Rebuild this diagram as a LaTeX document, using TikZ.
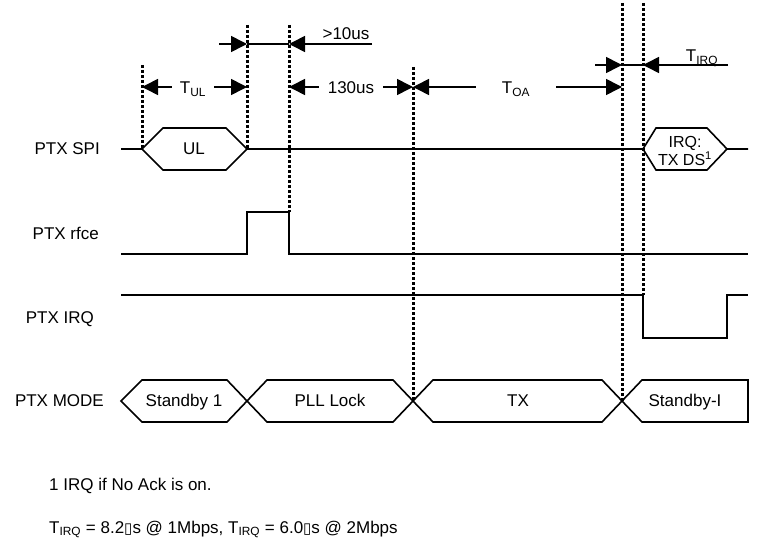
\documentclass[tikz,border=0pt]{standalone}
\usepackage{fontspec}
\setmainfont{Liberation Sans}
\newfontfamily\glyphfont{DejaVu Sans}
\newcommand{\nobox}{{\glyphfont\fontsize{15}{15}\selectfont ▯}}
\usetikzlibrary{arrows.meta}

\begin{document}
\begin{tikzpicture}[
  x=1pt, y=-1pt,
  font=\fontsize{17}{20}\selectfont,
  sig/.style={line width=1.6pt, line join=miter},
  marker/.style={line width=3pt, dash pattern=on 3pt off 2pt},
  dim/.style={-{Triangle[length=16pt, width=16pt]}, line width=1.6pt},
  lbl/.style={inner sep=0pt, anchor=base},
  rowlbl/.style={inner sep=0pt, anchor=base east},
]

\useasboundingbox (0,0) rectangle (757,540);

% --- time marks and rows ---
\coordinate (tA) at (142,0);
\coordinate (tB) at (247,0);
\coordinate (tC) at (289,0);
\coordinate (tD) at (413,0);
\coordinate (tE) at (622,0);
\coordinate (tF) at (643,0);
\coordinate (r1) at (0,44);
\coordinate (r2) at (0,87);
\coordinate (r3) at (0,65);

% --- Row labels ---
\node[rowlbl] (spi)  at (100,155) {PTX SPI};
\node[rowlbl] (rfce) at (99,239)  {PTX rfce};
\node[rowlbl] (irq)  at (94,323)  {PTX IRQ};
\node[rowlbl] (mode) at (104,406) {PTX MODE};

% --- Dotted time markers ---
\draw[marker] (tA |- 0,65) -- (tA |- 0,149);
\draw[marker] (tB |- 0,25) -- (tB |- 0,149);
\draw[marker] (tC |- 0,25) -- (tC |- 0,212);
\draw[marker] (tD |- 0,67) -- (tD |- 0,401);
\draw[marker] (tE |- 0,3)  -- (tE |- 0,401);
\draw[marker] (tF |- 0,3)  -- (tF |- 0,295);

% --- PTX SPI ---
\draw[sig] (121,149) -- (142,149) -- (163,128) -- (226,128) -- (247,149)
  -- (643,149) -- (656,128) -- (707,128) -- (727,149) -- (748,149);
\draw[sig] (142,149) -- (163,170) -- (226,170) -- (247,149);
\draw[sig] (643,149) -- (656,170) -- (707,170) -- (727,149);
\node[lbl] (ul) at (194,155) {UL};
\node[inner sep=0pt, align=center, font=\fontsize{16}{18}\selectfont] (txds) at (685,151) {IRQ:\\TX DS\textsuperscript{1}};

% --- PTX rfce ---
\draw[sig] (121,254) -- (247,254) -- (247,212) -- (289,212) -- (289,254) -- (748,254);

% --- PTX IRQ ---
\draw[sig] (121,295) -- (643,295) -- (643,338) -- (727,338) -- (727,295) -- (748,295);

% --- PTX MODE ---
\draw[sig] (121,401) -- (142,380) -- (227,380) -- (267,422) -- (393,422) -- (433,380)
  -- (602,380) -- (642,422) -- (748,422) -- (748,380) -- (642,380) -- (602,422)
  -- (433,422) -- (393,380) -- (267,380) -- (227,422) -- (142,422) -- cycle;
\node[lbl] (sb1) at (184,406) {Standby 1};
\node[lbl] (pll) at (330,406) {PLL Lock};
\node[lbl] (tx)  at (518,406) {TX};
\node[lbl] (sbi) at (685,406) {Standby-I};

% --- Timing dimensions ---
\node[lbl] (gt10) at (346,40) {>10us};
\coordinate (g1) at (219,44);
\coordinate (g2) at (372,44);
\draw[dim] (g1) -- (tB |- r1);
\draw[sig] (tB |- r1) -- (tC |- r1);
\draw[dim] (g2) -- (tC |- r1);

\node[lbl, inner xsep=8pt] (tul) at (193,94) {T\textsubscript{UL}};
\draw[dim] (tul.west |- r2) -- (tA |- r2);
\draw[dim] (tul.east |- r2) -- (tB |- r2);

\node[lbl, inner xsep=9pt] (t130) at (351,94) {130us};
\draw[dim] (t130.west |- r2) -- (tC |- r2);
\draw[dim] (t130.east |- r2) -- (tD |- r2);

\node[lbl, inner xsep=26pt] (toa) at (516,94) {T\textsubscript{OA}};
\draw[dim] (toa.west |- r2) -- (tD |- r2);
\draw[dim] (toa.east |- r2) -- (tE |- r2);

\node[lbl] (tirq) at (702,62) {T\textsubscript{IRQ}};
\coordinate (q1) at (595,65);
\coordinate (q2) at (728,65);
\draw[dim] (q1) -- (tE |- r3);
\draw[sig] (tE |- r3) -- (tF |- r3);
\draw[dim] (q2) -- (tF |- r3);

% --- Footnotes ---
\node[inner sep=0pt, anchor=base west] (fn1) at (49,490) {1 IRQ if No Ack is on.};
\node[inner sep=0pt, anchor=base west] (fn2) at (49,533)
  {T\textsubscript{IRQ} = 8.2\nobox s @ 1Mbps, T\textsubscript{IRQ} = 6.0\nobox s @ 2Mbps};

\end{tikzpicture}
\end{document}
